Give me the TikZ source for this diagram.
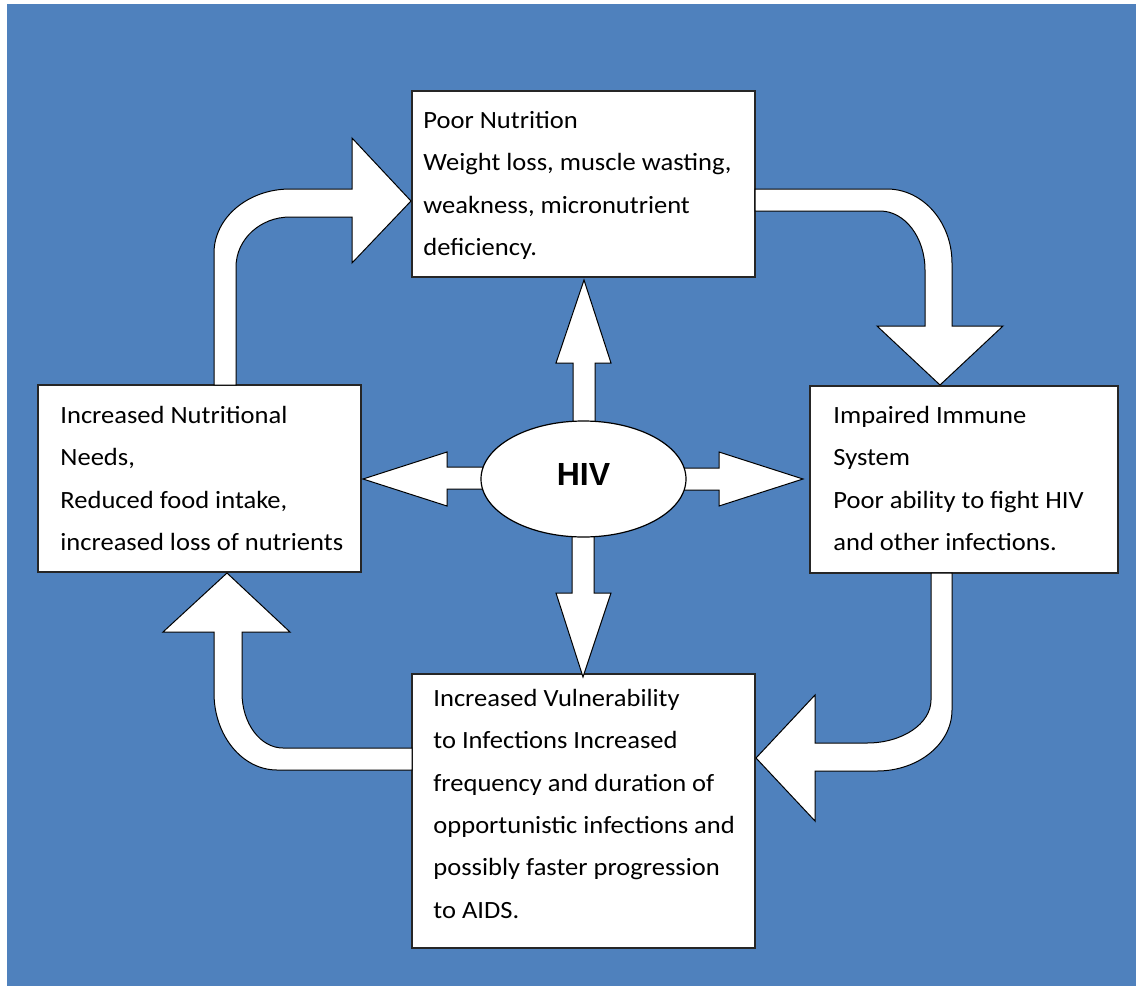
\documentclass[tikz,border=0pt]{standalone}
\usepackage{fontspec}
\setmainfont{Carlito}[FakeStretch=1.07]
\newfontfamily\hivfont{Liberation Sans}
\usetikzlibrary{shapes.geometric}
\definecolor{bgblue}{HTML}{4F81BD}
\begin{document}
\begin{tikzpicture}[x=0.5pt,y=-0.5pt,
  box/.style={draw=black!85,line width=0.6pt,fill=white,rectangle,inner sep=0pt},
  txt/.style={anchor=north west,inner sep=0pt,align=left,font=\fontsize{12.4}{21.2}\selectfont},
  blockarrow/.style={draw=black,line width=0.5pt,fill=white,line join=miter}]
\useasboundingbox (0,0) rectangle (1136,986);
\fill[bgblue] (7,4) rectangle (1136,986);

% boxes
\node[box,minimum width=171.5pt,minimum height=93pt] (pn) at (583.5,184) {};
\node[box,minimum width=161.5pt,minimum height=93.5pt] (nn) at (199.5,478.5) {};
\node[box,minimum width=154pt,minimum height=93.5pt] (im) at (964,479.5) {};
\node[box,minimum width=171.5pt,minimum height=137pt] (vu) at (583.5,811) {};

% texts
\node[txt] (pnt) at (423,98.3) {\strut Poor Nutrition\\Weight loss, muscle wasting,\\weakness, micronutrient\\deficiency.};
\node[txt] (nnt) at (60,393.3) {\strut Increased Nutritional\\Needs,\\Reduced food intake,\\increased loss of nutrients};
\node[txt] (imt) at (833,393.3) {\strut Impaired Immune\\System\\Poor ability to fight HIV\\and other infections.};
\node[txt] (vut) at (433,676.3) {\strut Increased Vulnerability\\to Infections Increased\\frequency and duration of\\opportunistic infections and\\possibly faster progression\\to AIDS.};

% bent arrows of the cycle
% needs -> poor nutrition
\draw[blockarrow] (214,385) -- (214,253) .. controls (214,217.7) and (248,189) .. (290,189)
  -- (352,189) -- (352,138) -- (411,201) -- (352,263) -- (352,217) -- (290,217)
  .. controls (260.2,217) and (236,239.4) .. (236,267) -- (236,385) -- cycle;
% poor nutrition -> immune
\draw[blockarrow] (755,189) -- (887,189) .. controls (922.9,189) and (952,222.1) .. (952,263)
  -- (952,326) -- (1003,326) -- (940,385) -- (877,326) -- (925,326) -- (925,270)
  .. controls (925,237.4) and (904.9,211) .. (880,211) -- (755,211) -- cycle;
% immune -> vulnerability
\draw[blockarrow] (952,573) -- (952,710) .. controls (952,743.7) and (918.4,771) .. (877,771)
  -- (815,771) -- (815,821) -- (756,758) -- (815,695) -- (815,743) -- (867,743)
  .. controls (902.3,743) and (931,723.7) .. (931,700) -- (931,573) -- cycle;
% vulnerability -> needs
\draw[blockarrow] (412,770) -- (277,770) .. controls (242.2,770) and (214,735.5) .. (214,693)
  -- (214,632) -- (163,632) -- (227,573) -- (290,632) -- (242,632) -- (242,693)
  .. controls (242,723.4) and (260.4,748) .. (283,748) -- (412,748) -- cycle;

% straight arrows from HIV
\draw[blockarrow] (573,440) -- (573,363) -- (556,363) -- (584,280) -- (611,363) -- (595,363) -- (595,440) -- cycle;
\draw[blockarrow] (572,520) -- (572,593) -- (556,593) -- (583,677) -- (611,593) -- (594,593) -- (594,520) -- cycle;
\draw[blockarrow] (500,467) -- (447,467) -- (447,452) -- (363,479) -- (447,506) -- (447,489) -- (500,489) -- cycle;
\draw[blockarrow] (670,468) -- (719,468) -- (719,452) -- (803,479) -- (719,506) -- (719,490) -- (670,490) -- cycle;

% HIV ellipse
\node[ellipse,draw=black,line width=0.6pt,fill=white,minimum width=102.5pt,minimum height=58pt,inner sep=0pt] (hiv) at (583.5,479) {};
\node[inner sep=0pt,font=\hivfont\bfseries\fontsize{16}{18}\selectfont] (hivt) at (583.5,474.5) {HIV};
\end{tikzpicture}
\end{document}
